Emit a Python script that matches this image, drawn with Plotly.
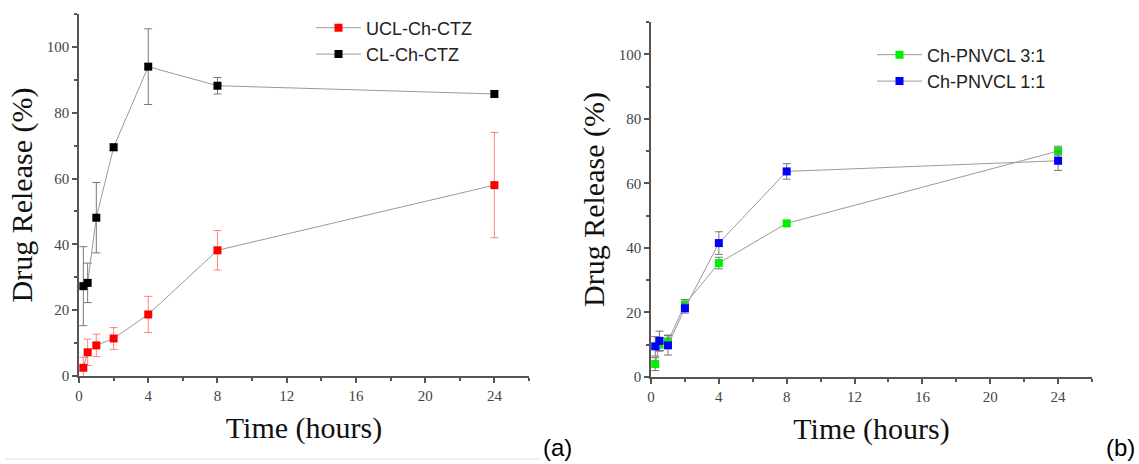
import plotly.graph_objects as go

# ---------------- data ----------------
time_h = [0.25, 0.5, 1, 2, 4, 8, 24]

ucl_vals = [2.5, 7.2, 9.3, 11.4, 18.7, 38.2, 58.0]
ucl_err = [3.2, 4.0, 3.4, 3.3, 5.5, 6.0, 16.0]

cl_vals = [27.3, 28.3, 48.1, 69.5, 94.0, 88.2, 85.7]
cl_err = [12.0, 6.0, 10.7, 1.0, 11.5, 2.5, 1.0]

p31_vals = [4.0, 10.0, 11.0, 22.5, 35.3, 47.6, 70.0]
p31_err = [2.0, 2.0, 2.0, 1.5, 1.8, 0.8, 1.5]

p11_vals = [9.5, 11.2, 9.8, 21.3, 41.5, 63.7, 67.0]
p11_err = [3.0, 3.0, 3.0, 1.5, 3.5, 2.4, 3.0]

x_ticks = [0, 4, 8, 12, 16, 20, 24]
y_ticks = [0, 20, 40, 60, 80, 100]

# ---------------- geometry helpers (pixel -> paper) ----------------
W, H = 1139, 464
ML, MR, MT, MB = 79, 47, 14, 87
PW, PH = W - ML - MR, H - MT - MB


def px(x):
    return (x - ML) / PW


def py(y):
    return (H - MB - y) / PH


# ---------------- figure ----------------
fig = go.Figure()

line_col = "#9a9a9a"


def add_series(name, y, err, color, err_color, xa, ya, legend):
    fig.add_trace(go.Scatter(
        x=time_h, y=y, name=name, mode="lines+markers",
        line=dict(color=line_col, width=1),
        marker=dict(symbol="square", size=8, color=color),
        error_y=dict(type="data", array=err, color=err_color, thickness=1, width=4),
        xaxis=xa, yaxis=ya, legend=legend,
    ))


add_series("UCL-Ch-CTZ", ucl_vals, ucl_err, "#ff0000", "rgba(255,80,80,0.7)", "x", "y", "legend")
add_series("CL-Ch-CTZ", cl_vals, cl_err, "#000000", "#777777", "x", "y", "legend")
add_series("Ch-PNVCL 3:1", p31_vals, p31_err, "#00ee00", "#777777", "x2", "y2", "legend2")
add_series("Ch-PNVCL 1:1", p11_vals, p11_err, "#0000ff", "#777777", "x2", "y2", "legend2")

axcol = "#555555"
tickfont = dict(family="Liberation Serif", size=15, color="#444444")
titlefont = dict(family="Liberation Serif", size=30, color="#111111")


def xax(domain, anchor):
    return dict(
        domain=domain, anchor=anchor, range=[0, 26], automargin=False,
        tickmode="array", tickvals=x_ticks,
        ticks="outside", ticklen=5, tickwidth=1.5, tickcolor=axcol,
        showline=True, linecolor=axcol, linewidth=1.5,
        showgrid=False, zeroline=False, tickfont=tickfont,
        minor=dict(dtick=2, tick0=0, ticks="outside", ticklen=3, tickwidth=1.5,
                   tickcolor=axcol, showgrid=False),
        title=dict(text="Time (hours)", font=titlefont, standoff=14),
    )


def yax(domain, anchor):
    return dict(
        domain=domain, anchor=anchor, range=[0, 110], automargin=False,
        tickmode="array", tickvals=y_ticks,
        ticks="outside", ticklen=5, tickwidth=1.5, tickcolor=axcol,
        showline=True, linecolor=axcol, linewidth=1.5,
        showgrid=False, zeroline=False, tickfont=tickfont,
        minor=dict(dtick=10, tick0=0, ticks="outside", ticklen=3, tickwidth=1.5,
                   tickcolor=axcol, showgrid=False),
        title=dict(text="Drug Release (%)", font=titlefont, standoff=5),
    )


legfont = dict(family="Liberation Sans", size=18, color="#222222")

fig.update_layout(
    width=W, height=H,
    margin=dict(l=ML, r=MR, t=MT, b=MB, autoexpand=False),
    paper_bgcolor="white", plot_bgcolor="white",
    showlegend=True,
    xaxis=xax([px(79), px(529)], "y"),
    yaxis=yax([py(376), py(14)], "x"),
    xaxis2=xax([px(651), px(1092)], "y2"),
    yaxis2=yax([py(377), py(22)], "x2"),
    legend=dict(x=px(311), y=py(9.5), xanchor="left", yanchor="top",
                bgcolor="rgba(0,0,0,0)", font=legfont, itemwidth=45,
                tracegroupgap=0, borderwidth=0),
    legend2=dict(x=px(872), y=py(36.5), xanchor="left", yanchor="top",
                 bgcolor="rgba(0,0,0,0)", font=legfont, itemwidth=45,
                 tracegroupgap=0, borderwidth=0),
    annotations=[
        dict(text="(a)", x=px(557), y=py(447), xref="paper", yref="paper",
             xanchor="center", yanchor="middle",
             showarrow=False, font=dict(family="Liberation Sans", size=24, color="#000000")),
        dict(text="(b)", x=px(1120), y=py(447), xref="paper", yref="paper",
             xanchor="center", yanchor="middle",
             showarrow=False, font=dict(family="Liberation Sans", size=24, color="#000000")),
    ],
    shapes=[
        dict(type="line", xref="paper", yref="paper", x0=px(5), x1=px(540),
             y0=py(459), y1=py(459), line=dict(color="#dddddd", width=1)),
    ],
)

fig.write_html("out.html")
